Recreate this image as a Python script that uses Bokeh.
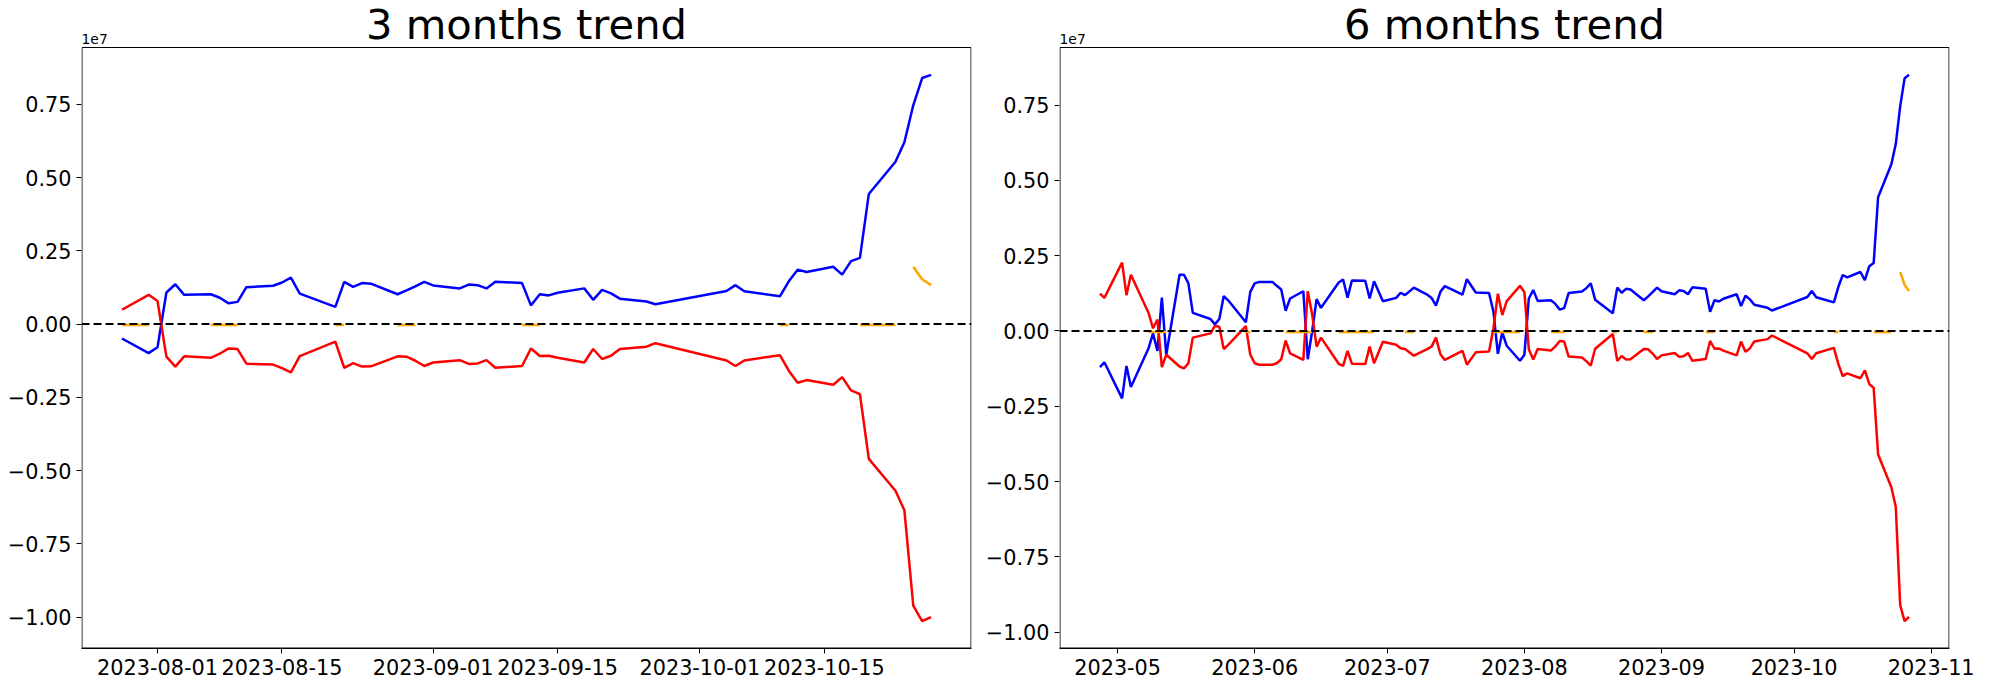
import numpy as np
import pandas as pd
from bokeh.plotting import figure
from bokeh.models import (Range1d, Span, FixedTicker, CustomJSTickFormatter,
                          DatetimeTickFormatter, Label, BoxAnnotation)
from bokeh.layouts import row
from bokeh.embed import file_html
from bokeh.resources import INLINE

FONT = "DejaVu Sans"

# ---------------- 3 months data (values in millions) ----------------
dates_3m = ["2023-07-28", "2023-07-31", "2023-08-01", "2023-08-02", "2023-08-03", "2023-08-04",
            "2023-08-07", "2023-08-08", "2023-08-09", "2023-08-10", "2023-08-11",
            "2023-08-14", "2023-08-15", "2023-08-16", "2023-08-17",
            "2023-08-21", "2023-08-22", "2023-08-23", "2023-08-24", "2023-08-25",
            "2023-08-28", "2023-08-29", "2023-08-30", "2023-08-31", "2023-09-01",
            "2023-09-04", "2023-09-05", "2023-09-06", "2023-09-07", "2023-09-08",
            "2023-09-11", "2023-09-12", "2023-09-13", "2023-09-14", "2023-09-15",
            "2023-09-18", "2023-09-19", "2023-09-20", "2023-09-21", "2023-09-22",
            "2023-09-25", "2023-09-26",
            "2023-10-04", "2023-10-05", "2023-10-06",
            "2023-10-10", "2023-10-11", "2023-10-12", "2023-10-13",
            "2023-10-16", "2023-10-17", "2023-10-18", "2023-10-19", "2023-10-20",
            "2023-10-23", "2023-10-24", "2023-10-25", "2023-10-26", "2023-10-27"]

blue_3m = [-0.49, -0.99, -0.79, 1.08, 1.36, 1.00,
           1.02, 0.90, 0.71, 0.76, 1.26,
           1.31, 1.42, 1.585, 1.04,
           0.59, 1.44, 1.27, 1.40, 1.38,
           1.02, 1.15, 1.29, 1.44, 1.32,
           1.22, 1.35, 1.33, 1.22, 1.45,
           1.40, 0.64, 1.02, 0.98, 1.07,
           1.22, 0.83, 1.17, 1.05, 0.87,
           0.77, 0.68,
           1.13, 1.33, 1.12,
           0.95, 1.46, 1.86, 1.78,
           1.96, 1.69, 2.15, 2.26, 4.44,
           5.54, 6.21, 7.47, 8.40, 8.51]

red_3m = [0.49, 1.00, 0.79, -1.11, -1.45, -1.10,
          -1.15, -1.01, -0.83, -0.85, -1.35,
          -1.38, -1.50, -1.65, -1.09,
          -0.60, -1.49, -1.33, -1.45, -1.44,
          -1.10, -1.11, -1.25, -1.43, -1.31,
          -1.23, -1.36, -1.34, -1.23, -1.49,
          -1.43, -0.83, -1.09, -1.08, -1.15,
          -1.31, -0.85, -1.19, -1.08, -0.85,
          -0.77, -0.65,
          -1.24, -1.43, -1.24,
          -1.06, -1.59, -2.00, -1.91,
          -2.07, -1.81, -2.26, -2.39, -4.60,
          -5.69, -6.35, -9.61, -10.14, -10.00]

orange_3m = [-0.03, -0.03, None, None, None, None,
             -0.03, -0.03, -0.03, -0.03, None,
             None, None, None, None,
             -0.03, -0.03, None, None, None,
             -0.03, -0.03, -0.03, None, None,
             None, None, None, None, None,
             -0.03, -0.03, -0.03, None, None,
             None, None, None, None, None,
             None, None,
             None, None, None,
             -0.03, -0.03, None, None,
             None, None, None, -0.03, -0.03,
             -0.03, None, 1.96, 1.53, 1.33]

# ---------------- 6 months data (values in millions) ----------------
dates_6m = ["2023-04-27", "2023-04-28", "2023-05-02", "2023-05-03", "2023-05-04",
            "2023-05-08", "2023-05-09", "2023-05-10", "2023-05-11", "2023-05-12",
            "2023-05-15", "2023-05-16", "2023-05-17", "2023-05-18",
            "2023-05-22", "2023-05-23", "2023-05-24", "2023-05-25", "2023-05-26",
            "2023-05-30", "2023-05-31", "2023-06-01", "2023-06-02",
            "2023-06-05", "2023-06-06", "2023-06-07", "2023-06-08", "2023-06-09",
            "2023-06-12", "2023-06-13", "2023-06-14", "2023-06-15", "2023-06-16",
            "2023-06-20", "2023-06-21", "2023-06-22", "2023-06-23",
            "2023-06-26", "2023-06-27", "2023-06-28", "2023-06-30",
            "2023-07-03", "2023-07-04", "2023-07-05", "2023-07-07",
            "2023-07-10", "2023-07-11", "2023-07-12", "2023-07-13", "2023-07-14",
            "2023-07-18", "2023-07-19", "2023-07-21",
            "2023-07-24", "2023-07-25", "2023-07-26", "2023-07-27"] + dates_3m

blue_6m = [-1.20, -1.04, -2.24, -1.16, -1.86,
           -0.57, -0.08, -0.66, 1.11, -0.79,
           1.87, 1.87, 1.58, 0.60,
           0.40, 0.22, 0.40, 1.16, 1.02,
           0.29, 1.30, 1.58, 1.63,
           1.63, 1.50, 1.38, 0.67, 1.08,
           1.32, -0.94, 0.00, 1.06, 0.77,
           1.61, 1.71, 1.11, 1.68,
           1.67, 1.08, 1.65, 0.99,
           1.10, 1.27, 1.19, 1.44,
           1.21, 1.10, 0.84, 1.30, 1.49,
           1.21, 1.72, 1.28,
           1.26, 0.64, -0.76, -0.05,
           -0.49, -0.99, -0.79, 1.08, 1.36, 1.00,
           1.02, 0.90, 0.71, 0.76, 1.26,
           1.31, 1.42, 1.585, 1.04,
           0.59, 1.44, 1.27, 1.40, 1.38,
           1.02, 1.15, 1.29, 1.44, 1.32,
           1.22, 1.35, 1.33, 1.22, 1.45,
           1.40, 0.64, 1.02, 0.98, 1.07,
           1.22, 0.83, 1.17, 1.05, 0.87,
           0.77, 0.68,
           1.13, 1.33, 1.12,
           0.95, 1.46, 1.86, 1.78,
           1.96, 1.69, 2.15, 2.26, 4.44,
           5.54, 6.21, 7.47, 8.40, 8.51]

red_6m = [1.24, 1.10, 2.27, 1.19, 1.87,
          0.60, 0.09, 0.38, -1.20, -0.79,
          -1.18, -1.24, -1.07, -0.22,
          -0.08, 0.17, 0.14, -0.60, -0.46,
          0.16, -0.79, -1.07, -1.12,
          -1.12, -1.07, -0.94, -0.32, -0.74,
          -0.96, 1.32, 0.55, -0.52, -0.22,
          -1.09, -1.16, -0.66, -1.09,
          -1.10, -0.52, -1.07, -0.36,
          -0.46, -0.57, -0.60, -0.82,
          -0.60, -0.52, -0.22, -0.77, -0.96,
          -0.66, -1.12, -0.71,
          -0.68, 0.09, 1.24, 0.53,
          0.99, 1.50, 1.29, -0.61, -0.95, -0.60,
          -0.65, -0.51, -0.33, -0.35, -0.85,
          -0.88, -1.00, -1.15, -0.59,
          -0.10, -0.99, -0.83, -0.95, -0.94,
          -0.60, -0.61, -0.75, -0.93, -0.81,
          -0.73, -0.86, -0.84, -0.73, -0.99,
          -0.93, -0.33, -0.59, -0.58, -0.65,
          -0.81, -0.35, -0.69, -0.58, -0.35,
          -0.27, -0.15,
          -0.74, -0.93, -0.74,
          -0.56, -1.09, -1.50, -1.41,
          -1.57, -1.31, -1.76, -1.89, -4.10,
          -5.19, -5.85, -9.11, -9.64, -9.50]

orange_6m = [None, None, None, None, None,
             -0.03, -0.03, -0.03, -0.03, -0.03,
             None, None, None, None,
             None, None, None, None, None,
             -0.03, -0.03, None, None,
             None, None, None, -0.03, -0.03,
             -0.03, -0.03, -0.03, None, None,
             -0.03, -0.03, -0.03, -0.03,
             -0.03, -0.03, -0.03, None,
             None, None, -0.03, -0.03,
             None, None, None, None, None,
             None, None, None,
             None, -0.03, -0.03, -0.03] + orange_3m

ticks_3m = ["2023-08-01", "2023-08-15", "2023-09-01", "2023-09-15", "2023-10-01", "2023-10-15"]
ticks_6m = ["2023-05-01", "2023-06-01", "2023-07-01", "2023-08-01", "2023-09-01",
            "2023-10-01", "2023-11-01"]
y_ticks = [-1.00, -0.75, -0.50, -0.25, 0.00, 0.25, 0.50, 0.75]  # in 1e7

EPOCH = pd.Timestamp("1970-01-01")
FRAME_W = 890      # axes box width (px)
BOX_H = 601        # axes box height (px)
HEAD_H = 47        # space above the axes box for title / offset text (px)
TITLE_RAISE = 23   # title anchor distance above the axes box (px)
OFFSET_RAISE = 9   # "1e7" anchor distance above the axes box (px)
LW = 2.5


def to_ms(t):
    return (pd.Timestamp(t) - EPOCH) / pd.Timedelta(milliseconds=1)


def make_plot(title, dates, blue, red, orange, xticks, xfmt, mbl, mbr):
    x = pd.to_datetime(dates).values
    b = np.array(blue, dtype=float) * 1e6
    r = np.array(red, dtype=float) * 1e6
    o = np.array([np.nan if v is None else v for v in orange], dtype=float) * 1e6

    xmin, xmax = pd.Timestamp(x.min()), pd.Timestamp(x.max())
    xpad = (xmax - xmin) * 0.05
    xs, xe = to_ms(xmin - xpad), to_ms(xmax + xpad)
    allv = np.concatenate([b, r, o])
    ymin, ymax = np.nanmin(allv), np.nanmax(allv)
    ypad = (ymax - ymin) * 0.05
    ys, ye = ymin - ypad, ymax + ypad
    dy = (ye - ys) / BOX_H          # data units per pixel (y)
    dx = (xe - xs) / FRAME_W        # data units per pixel (x)
    ytop = ye + HEAD_H * dy         # frame extends above the axes box

    p = figure(frame_width=FRAME_W, frame_height=BOX_H + HEAD_H,
               x_axis_type="datetime", title_location=None,
               output_backend="svg", toolbar_location=None,
               x_range=Range1d(xs, xe), y_range=Range1d(ys, ytop),
               min_border_left=mbl, min_border_right=mbr,
               min_border_top=0, min_border_bottom=36)
    p.background_fill_color = "white"
    p.border_fill_color = "white"
    p.outline_line_color = None
    p.xgrid.visible = False
    p.ygrid.visible = False

    p.line(x, b, line_color="blue", line_width=LW)
    p.line(x, r, line_color="red", line_width=LW)
    p.line(x, o, line_color="orange", line_width=LW)

    p.add_layout(Span(location=0, dimension="width", line_color="black",
                      line_width=2, line_dash="8 4"))

    # axes box (matplotlib-style spines)
    p.add_layout(BoxAnnotation(left=xs + 0.5 * dx, right=xe - 0.5 * dx,
                               bottom=ys + 0.5 * dy, top=ye,
                               fill_color=None, line_color="black",
                               line_width=1, line_alpha=1))

    p.xaxis.ticker = FixedTicker(ticks=[to_ms(t) for t in xticks])
    p.xaxis.formatter = DatetimeTickFormatter(
        microseconds=xfmt, milliseconds=xfmt, seconds=xfmt, minsec=xfmt,
        minutes=xfmt, hourmin=xfmt, hours=xfmt, days=xfmt, months=xfmt,
        years=xfmt, strip_leading_zeros=False)
    p.yaxis.ticker = FixedTicker(ticks=[v * 1e7 for v in y_ticks])
    p.yaxis.formatter = CustomJSTickFormatter(
        code="return (tick/1e7).toFixed(2).replace('-', '\u2212');")

    for ax in (p.xaxis[0], p.yaxis[0]):
        ax.major_label_text_font = FONT
        ax.major_label_text_font_size = "20.8px"
        ax.major_label_text_color = "black"
        ax.axis_line_color = "black"
        ax.axis_line_width = 1
        ax.major_tick_line_color = "black"
        ax.major_tick_out = 5
        ax.major_tick_in = 0
        ax.minor_tick_out = 0
        ax.minor_tick_in = 0
        ax.major_label_standoff = 5
    p.yaxis[0].axis_line_color = None

    # title
    p.add_layout(Label(x=(xs + xe) / 2, y=ye + TITLE_RAISE * dy, text=title,
                       text_font=FONT, text_font_size="41.7px",
                       text_color="black", text_align="center",
                       text_baseline="alphabetic"))
    # scale factor text above the top-left corner of the axes box
    p.add_layout(Label(x=xs, y=ye + OFFSET_RAISE * dy, text="1e7",
                       text_font=FONT, text_font_size="13.9px",
                       text_color="black", text_align="left",
                       text_baseline="alphabetic"))
    return p


p1 = make_plot("3 months trend", dates_3m, blue_3m, red_3m, orange_3m,
               ticks_3m, "%Y-%m-%d", 81, 9)
p2 = make_plot("6 months trend", dates_6m, blue_6m, red_6m, orange_6m,
               ticks_6m, "%Y-%m", 79, 28)

layout = row(p1, p2)
open("out.html", "w").write(file_html(layout, INLINE))
